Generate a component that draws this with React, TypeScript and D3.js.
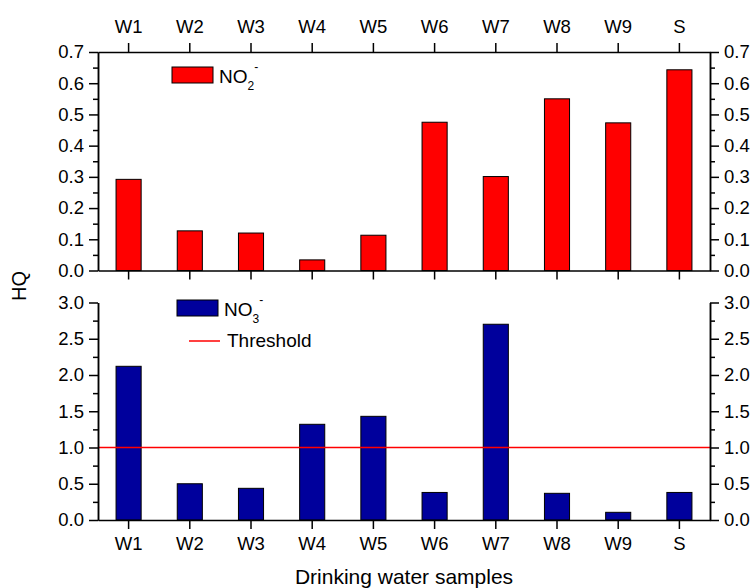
import React, { useEffect, useRef } from "react";
import * as d3 from "d3";

const categories = ["W1", "W2", "W3", "W4", "W5", "W6", "W7", "W8", "W9", "S"];
const no2Values = [0.292, 0.127, 0.12, 0.034, 0.113, 0.475, 0.301, 0.55, 0.473, 0.643];
const no3Values = [2.12, 0.5, 0.437, 1.32, 1.43, 0.38, 2.7, 0.368, 0.106, 0.38];
const thresholdValue = 1.0;
const topMajorTicks = [0, 0.1, 0.2, 0.3, 0.4, 0.5, 0.6, 0.7];
const topMinorTicks = [0.05, 0.15, 0.25, 0.35, 0.45, 0.55, 0.65];
const botMajorTicks = [0, 0.5, 1.0, 1.5, 2.0, 2.5, 3.0];
const botMinorTicks = [0.25, 0.75, 1.25, 1.75, 2.25, 2.75];

const W = 751;
const H = 588;
const LEFT = 98;
const RIGHT = 710;
const FONT = "'Liberation Sans', Arial, sans-serif";

export default function App() {
  const ref = useRef<SVGSVGElement>(null);

  useEffect(() => {
    const svg = d3.select(ref.current);
    svg.selectAll("*").remove();

    const x = d3.scaleBand<string>().domain(categories).range([LEFT, RIGHT]).padding(0);
    const barW = x.bandwidth() * 0.41;
    const cx = (c: string) => (x(c) as number) + x.bandwidth() / 2;

    const yTop = d3.scaleLinear().domain([0, 0.7]).range([270.5, 52]);
    const yBot = d3.scaleLinear().domain([0, 3]).range([520, 302.5]);

    const fmt = d3.format(".1f");

    svg
      .append("g")
      .selectAll("rect")
      .data(categories)
      .join("rect")
      .attr("x", (c) => cx(c) - barW / 2)
      .attr("width", barW)
      .attr("y", (c, i) => yTop(no2Values[i]))
      .attr("height", (c, i) => yTop(0) - yTop(no2Values[i]))
      .attr("fill", "#FF0000")
      .attr("stroke", "#000")
      .attr("stroke-width", 1);

    svg
      .append("g")
      .selectAll("rect")
      .data(categories)
      .join("rect")
      .attr("x", (c) => cx(c) - barW / 2)
      .attr("width", barW)
      .attr("y", (c, i) => yBot(no3Values[i]))
      .attr("height", (c, i) => yBot(0) - yBot(no3Values[i]))
      .attr("fill", "#00009C")
      .attr("stroke", "#000")
      .attr("stroke-width", 1);

    svg
      .append("line")
      .attr("x1", LEFT)
      .attr("x2", RIGHT)
      .attr("y1", yBot(thresholdValue))
      .attr("y2", yBot(thresholdValue))
      .attr("stroke", "#FF0000")
      .attr("stroke-width", 1.5);

    const styleAxis = (g: any) => {
      g.selectAll("path").attr("stroke", "#000").attr("stroke-width", 1.5);
      g.selectAll("line").attr("stroke", "#000").attr("stroke-width", 1.5);
      g.selectAll("text")
        .attr("fill", "#000")
        .style("font-family", FONT)
        .style("font-size", "18.5px");
      g.attr("font-family", null).attr("font-size", null);
    };

    const addY = (scale: any, majors: number[], minors: number[], xPos: number, right: boolean) => {
      const mk = right ? d3.axisRight : d3.axisLeft;
      const gMin = svg.append("g").attr("transform", `translate(${xPos},0)`);
      gMin.call(mk(scale).tickValues(minors).tickSize(5).tickSizeOuter(0).tickFormat(() => ""));
      styleAxis(gMin);
      const g = svg.append("g").attr("transform", `translate(${xPos},0)`);
      g.call(
        mk(scale)
          .tickValues(majors)
          .tickSize(9)
          .tickSizeOuter(0)
          .tickPadding(right ? 5 : 5)
          .tickFormat((d: any) => fmt(d))
      );
      styleAxis(g);
    };

    addY(yTop, topMajorTicks, topMinorTicks, LEFT, false);
    addY(yTop, topMajorTicks, topMinorTicks, RIGHT, true);
    addY(yBot, botMajorTicks, botMinorTicks, LEFT, false);
    addY(yBot, botMajorTicks, botMinorTicks, RIGHT, true);

    const gTopX = svg.append("g").attr("transform", `translate(0,${yTop(0.7)})`);
    gTopX.call(d3.axisTop(x).tickSize(9).tickSizeOuter(0).tickPadding(10));
    styleAxis(gTopX);

    const gTopB = svg.append("g").attr("transform", `translate(0,${yTop(0)})`);
    gTopB.call(d3.axisBottom(x).tickSize(9).tickSizeOuter(0).tickFormat(() => ""));
    styleAxis(gTopB);

    const gBotX = svg.append("g").attr("transform", `translate(0,${yBot(0)})`);
    gBotX.call(d3.axisBottom(x).tickSize(9).tickSizeOuter(0).tickPadding(8));
    styleAxis(gBotX);

    svg
      .append("text")
      .attr("transform", `translate(26,286) rotate(-90)`)
      .attr("text-anchor", "middle")
      .style("font-family", FONT)
      .style("font-size", "20px")
      .text("HQ");

    svg
      .append("text")
      .attr("x", (LEFT + RIGHT) / 2)
      .attr("y", 584)
      .attr("text-anchor", "middle")
      .style("font-family", FONT)
      .style("font-size", "21px")
      .text("Drinking water samples");

    svg
      .append("rect")
      .attr("x", 172)
      .attr("y", 67)
      .attr("width", 41)
      .attr("height", 16)
      .attr("fill", "#FF0000")
      .attr("stroke", "#000")
      .attr("stroke-width", 1);
    const t1 = svg
      .append("text")
      .attr("x", 219)
      .attr("y", 83)
      .style("font-family", FONT)
      .style("font-size", "19px");
    t1.append("tspan").text("NO");
    t1.append("tspan").attr("dy", 7).style("font-size", "12px").text("2");
    t1.append("tspan").attr("dx", 0).attr("dy", -19).style("font-size", "12px").text("-");

    svg
      .append("rect")
      .attr("x", 177)
      .attr("y", 300)
      .attr("width", 41)
      .attr("height", 16)
      .attr("fill", "#00009C")
      .attr("stroke", "#000")
      .attr("stroke-width", 1);
    const t2 = svg
      .append("text")
      .attr("x", 224)
      .attr("y", 316)
      .style("font-family", FONT)
      .style("font-size", "19px");
    t2.append("tspan").text("NO");
    t2.append("tspan").attr("dy", 7).style("font-size", "12px").text("3");
    t2.append("tspan").attr("dx", 0).attr("dy", -19).style("font-size", "12px").text("-");

    svg
      .append("line")
      .attr("x1", 189)
      .attr("x2", 220)
      .attr("y1", 341)
      .attr("y2", 341)
      .attr("stroke", "#FF0000")
      .attr("stroke-width", 1.5);
    svg
      .append("text")
      .attr("x", 227)
      .attr("y", 347)
      .style("font-family", FONT)
      .style("font-size", "19px")
      .text("Threshold");
  }, []);

  return (
    <svg
      ref={ref}
      width={W}
      height={H}
      style={{ position: "absolute", left: 0, top: 0, background: "#fff" }}
    />
  );
}
